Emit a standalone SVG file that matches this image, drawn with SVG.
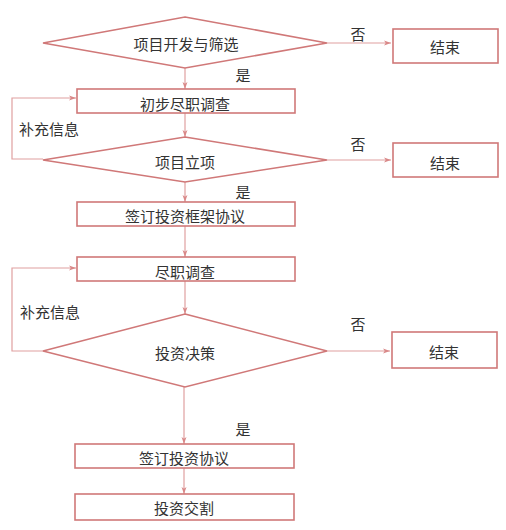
<svg xmlns="http://www.w3.org/2000/svg" width="506" height="530" viewBox="0 0 506 530">
<defs>
<marker id="ah" viewBox="0 0 10 10" refX="10" refY="5" markerWidth="7" markerHeight="7" orient="auto" markerUnits="userSpaceOnUse">
<path d="M0,1.5 L10,5 L0,8.5 L2.5,5 Z" fill="#d98888"/>
</marker>
<style>
.n{fill:#fff;stroke:#d07878;stroke-width:1.6}
.c{fill:none;stroke:#e0a0a0;stroke-width:1.2}
.t{font-family:"Noto Sans CJK SC","Noto Sans CJK JP",sans-serif;font-size:15px;fill:#333;text-anchor:middle;dominant-baseline:central}
.l{font-family:"Noto Sans CJK SC","Noto Sans CJK JP",sans-serif;font-size:15px;fill:#333;text-anchor:middle;dominant-baseline:central}
</style>
</defs>
<rect width="506" height="530" fill="#fff"/>
<g id="connectors">
<line class="c" x1="327" y1="43" x2="391" y2="43" marker-end="url(#ah)"/>
<line class="c" x1="185" y1="68" x2="185" y2="89" marker-end="url(#ah)"/>
<line class="c" x1="185" y1="113" x2="185" y2="137" marker-end="url(#ah)"/>
<polyline class="c" points="43,159 12,159 12,98 76,98" marker-end="url(#ah)"/>
<line class="c" x1="327" y1="160" x2="391" y2="160" marker-end="url(#ah)"/>
<line class="c" x1="185" y1="182" x2="185" y2="202" marker-end="url(#ah)"/>
<line class="c" x1="185" y1="226" x2="185" y2="257" marker-end="url(#ah)"/>
<polyline class="c" points="43,351 12,351 12,268 76,268" marker-end="url(#ah)"/>
<line class="c" x1="185" y1="281" x2="185" y2="314" marker-end="url(#ah)"/>
<line class="c" x1="327" y1="351" x2="390" y2="351" marker-end="url(#ah)"/>
<line class="c" x1="184" y1="387" x2="184" y2="444" marker-end="url(#ah)"/>
<line class="c" x1="184" y1="468" x2="184" y2="494" marker-end="url(#ah)"/>
<text class="l" x="358" y="33">否</text>
<text class="l" x="243" y="74">是</text>
<text class="l" x="49" y="128">补充信息</text>
<text class="l" x="358" y="143">否</text>
<text class="l" x="243" y="191">是</text>
<text class="l" x="50" y="311">补充信息</text>
<text class="l" x="358" y="323">否</text>
<text class="l" x="243" y="428">是</text>
</g>
<g id="n1"><polygon class="n" points="185,17 327,43 185,68 43,43"/><text class="t" x="186" y="43">项目开发与筛选</text></g>
<g id="e1"><rect class="n" x="393" y="29" width="105" height="34"/><text class="t" x="445" y="46">结束</text></g>
<g id="n2"><rect class="n" x="77" y="89" width="218" height="24"/><text class="t" x="185" y="103">初步尽职调查</text></g>
<g id="n3"><polygon class="n" points="185,137 327,160 185,182 43,160"/><text class="t" x="185" y="161">项目立项</text></g>
<g id="e2"><rect class="n" x="393" y="143" width="105" height="34"/><text class="t" x="445" y="162">结束</text></g>
<g id="n4"><rect class="n" x="77" y="202" width="218" height="24"/><text class="t" x="185" y="215">签订投资框架协议</text></g>
<g id="n5"><rect class="n" x="77" y="257" width="218" height="24"/><text class="t" x="185" y="271">尽职调查</text></g>
<g id="n6"><polygon class="n" points="185,314 327,351 185,387 43,351"/><text class="t" x="185" y="352">投资决策</text></g>
<g id="e3"><rect class="n" x="392" y="332" width="105" height="36"/><text class="t" x="444" y="351">结束</text></g>
<g id="n7"><rect class="n" x="75" y="444" width="219" height="24"/><text class="t" x="184" y="457">签订投资协议</text></g>
<g id="n8"><rect class="n" x="75" y="494" width="219" height="26"/><text class="t" x="184" y="507">投资交割</text></g>
</svg>
